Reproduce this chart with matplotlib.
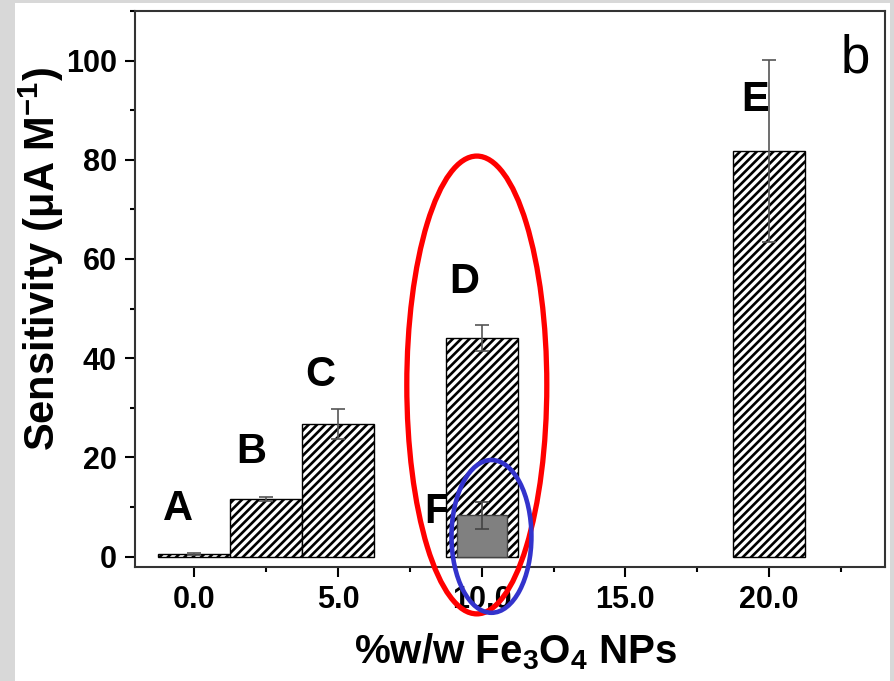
import matplotlib
matplotlib.use("Agg")
import matplotlib.pyplot as plt
from matplotlib.patches import Ellipse, Rectangle
from matplotlib.ticker import MultipleLocator, FormatStrFormatter

# hatched bars (A-E), % w/w Fe3O4
loadings = [0.0, 2.5, 5.0, 10.0, 20.0]
sens = [0.6, 11.6, 26.8, 44.1, 81.8]
sens_err = [0.2, 0.4, 3.0, 2.6, 18.4]
bar_names = ["A", "B", "C", "D", "E"]
name_pos = [(-0.57, 7.4), (2.0, 18.9), (4.37, 34.4), (9.38, 53.1), (19.5, 89.9)]

# solid grey bar (F)
f_loading = 10.0
f_sens = 8.3
f_err = 2.7

plt.rcParams["font.family"] = ["Liberation Sans", "DejaVu Sans"]
plt.rcParams["font.weight"] = "bold"
plt.rcParams["axes.labelweight"] = "bold"
plt.rcParams["mathtext.fontset"] = "custom"
plt.rcParams["mathtext.rm"] = "Liberation Sans:bold"
plt.rcParams["mathtext.default"] = "rm"
plt.rcParams["hatch.linewidth"] = 1.9

fig = plt.figure(figsize=(8.95, 6.81), dpi=100, facecolor="#d8d8d8")
fig.add_artist(Rectangle((15 / 895, 0), 875 / 895, 678 / 681,
                         transform=fig.transFigure, facecolor="white",
                         edgecolor="none", zorder=0))
ax = fig.add_axes([135 / 895, 1 - 567 / 681, 750 / 895, 556 / 681])

# letters sit under the bars (F is partly hidden by D)
for n, (x, y) in zip(bar_names, name_pos):
    ax.text(x, y, n, fontsize=30, ha="center", va="baseline", zorder=1)
ax.text(8.44, 6.8, "F", fontsize=30, ha="center", va="baseline", zorder=1)

ax.bar(loadings, sens, width=2.5, color="white", edgecolor="black",
       hatch="////", linewidth=1.0, zorder=2)
ax.errorbar(loadings, sens, yerr=sens_err, fmt="none", ecolor="#555555",
            elinewidth=1.2, capsize=5, capthick=1.2, zorder=3)
ax.bar(f_loading, f_sens, width=1.75, color="#808080", edgecolor="#444444",
       linewidth=1.0, zorder=4)
ax.errorbar(f_loading, f_sens, yerr=f_err, fmt="none", ecolor="#444444",
            elinewidth=1.2, capsize=5, capthick=1.2, zorder=5)

ax.text(23.0, 97.7, "b", fontsize=38, fontweight="normal",
        ha="center", va="baseline")

ax.set_xlim(-2.06, 24.03)
ax.set_ylim(-2.1, 110)
ax.xaxis.set_major_locator(MultipleLocator(5))
ax.xaxis.set_minor_locator(MultipleLocator(2.5))
ax.xaxis.set_major_formatter(FormatStrFormatter("%.1f"))
ax.yaxis.set_major_locator(MultipleLocator(20))
ax.yaxis.set_minor_locator(MultipleLocator(10))
ax.tick_params(which="major", length=7, width=1.5, labelsize=22, pad=6)
ax.tick_params(which="minor", length=3.5, width=1.5)
ax.tick_params(top=False, right=False)
for s in ax.spines.values():
    s.set_linewidth(1.5)
    s.set_color("#333333")

ax.set_ylabel("Sensitivity (μA M$^{-1}$)", fontsize=30)
ax.yaxis.label.set(ha="center", va="center")
ax.yaxis.set_label_coords(-0.125, 0.554)
ax.set_xlabel("%w/w Fe$_3$O$_4$ NPs", fontsize=29)
ax.xaxis.label.set(ha="center", va="baseline")
ax.xaxis.set_label_coords(0.507, -0.173)

# highlight ellipses
ax.add_patch(Ellipse((9.83, 34.6), 4.87, 92.3, fill=False, edgecolor="red",
                     linewidth=3.8, clip_on=False, zorder=10))
ax.add_patch(Ellipse((10.34, 4.07), 2.78, 30.8, fill=False, edgecolor="#3333cc",
                     linewidth=3.3, clip_on=False, zorder=11))

fig.savefig("out.png", dpi=100, facecolor=fig.get_facecolor())
